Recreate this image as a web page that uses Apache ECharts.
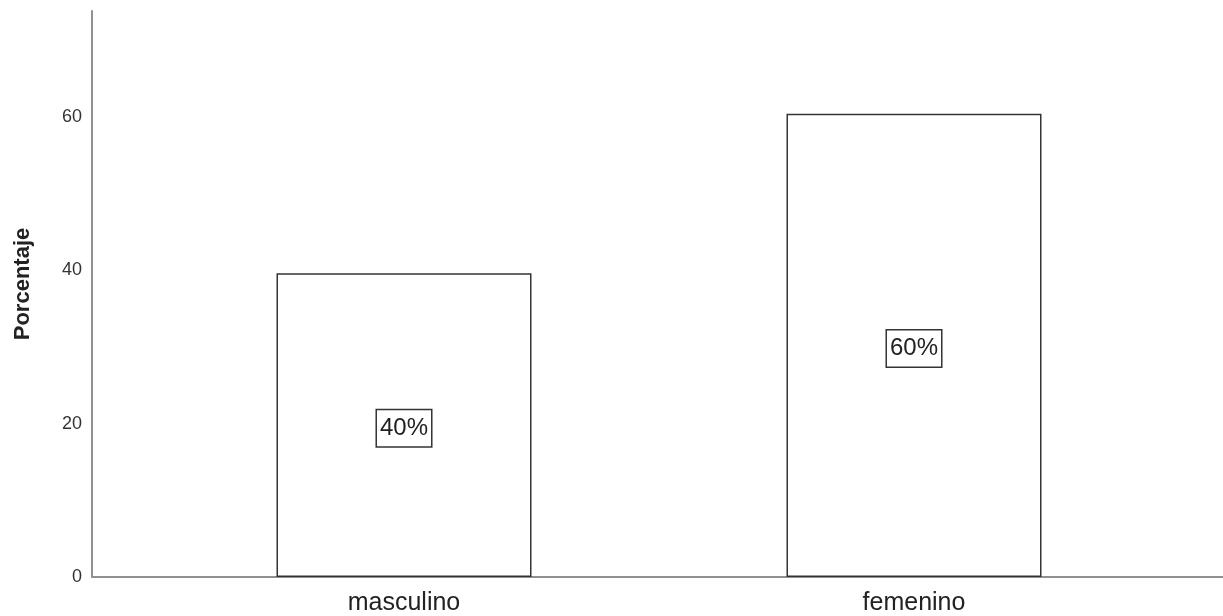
<!DOCTYPE html>
<html lang="es">
<head>
	<meta charset="UTF-8">
	<title>Porcentaje por sexo</title>
	<script src="https://cdn.jsdelivr.net/npm/echarts@6/dist/echarts.min.js"></script>
	<style>
		html,body{width:100%;height:100%;margin:0;background:#fff;}
		#chart{width:1223px;height:616px;}
	</style>
</head>
<body>
	<div id="chart"></div>
<script>
	// datos
	var categories = ['masculino', 'femenino'];
	var percentages = [39.6, 60.4];
	var barLabels = ['40%', '60%'];
	var yMin = 0;
	var yMax = 73.8;
	var yStep = 20;

	var myChart = echarts.init(document.getElementById('chart'));

	var axisColor = '#909090';
	var textColor = '#222';
	var font = 'Liberation Sans, Arial, sans-serif';

	var options = {
		animation: false,
		textStyle: { fontFamily: font },
		grid: [
			// grid para las lineas de los ejes
			{ left: 92, right: 0, top: 11, bottom: 39, outerBoundsMode: 'none' },
			// grid para las barras
			{ left: 149, right: 54, top: 11, bottom: 39, outerBoundsMode: 'none' }
		],
		xAxis: [
			{
				gridIndex: 0,
				type: 'category',
				data: categories,
				axisLine: { lineStyle: { color: axisColor, width: 2 } },
				axisTick: { show: false },
				axisLabel: { show: false }
			},
			{
				gridIndex: 1,
				type: 'category',
				data: categories,
				axisLine: { show: false },
				axisTick: { show: false },
				axisLabel: { fontSize: 25, color: textColor, margin: 14, fontFamily: font }
			}
		],
		yAxis: [
			{
				gridIndex: 0,
				type: 'value',
				min: yMin,
				max: yMax,
				interval: yStep,
				name: 'Porcentaje',
				nameLocation: 'middle',
				nameGap: 58,
				nameTextStyle: { fontSize: 22, fontWeight: 'bold', color: textColor, fontFamily: font, padding: [0, 0, 0, 20] },
				axisLine: { show: true, lineStyle: { color: axisColor, width: 2 } },
				axisTick: { show: false },
				splitLine: { show: false },
				axisLabel: { fontSize: 18, color: '#333', margin: 10, showMaxLabel: false, fontFamily: font }
			},
			{
				gridIndex: 1,
				type: 'value',
				min: yMin,
				max: yMax,
				interval: yStep,
				show: false,
				splitLine: { show: false }
			}
		],
		series: [
			{
				type: 'bar',
				xAxisIndex: 1,
				yAxisIndex: 1,
				data: percentages,
				barWidth: 255,
				itemStyle: { color: '#fff', borderColor: '#333', borderWidth: 1.5 },
				label: {
					show: true,
					position: 'inside',
					offset: [0, 3],
					formatter: function (p) { return barLabels[p.dataIndex]; },
					fontSize: 24,
					color: textColor,
					fontFamily: font,
					backgroundColor: '#fff',
					borderColor: '#333',
					borderWidth: 1.5,
					padding: [7, 3, 5, 3]
				}
			}
		]
	};
	myChart.setOption(options);
</script>
</body>
</html>
